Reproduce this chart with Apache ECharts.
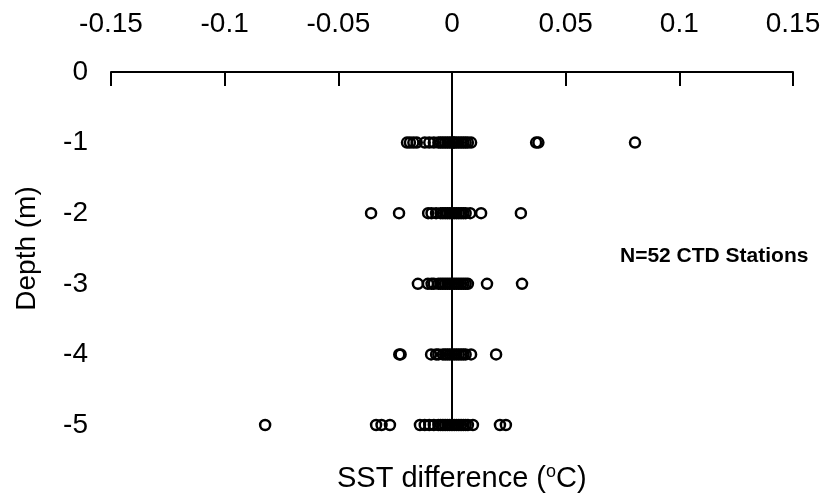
<!DOCTYPE html>
<html>
<head>
<meta charset="utf-8">
<script src="https://cdn.jsdelivr.net/npm/echarts@6/dist/echarts.min.js"></script>
<style>html,body{margin:0;padding:0;background:#fff;}#c{width:829px;height:498px;}</style>
</head>
<body>
<div id="c"></div>
<script>
// Depth levels (m)
var depths = [-1, -2, -3, -4, -5];
// SST differences (°C) at each depth
var sstDepth1 = [-0.0198, -0.0185, -0.017, -0.0155, -0.012, -0.010, -0.008, -0.006, -0.005, -0.004, -0.003, -0.002, -0.001, 0, 0.0005, 0.001, 0.002, 0.003, 0.004, 0.005, 0.006, 0.007, 0.0084, 0.037, 0.038, 0.0805];
var sstDepth2 = [-0.0356, -0.0233, -0.0105, -0.009, -0.007, -0.005, -0.004, -0.003, -0.002, -0.001, 0, 0.001, 0.002, 0.003, 0.004, 0.005, 0.006, 0.008, 0.0128, 0.0303];
var sstDepth3 = [-0.015, -0.0106, -0.009, -0.008, -0.006, -0.005, -0.004, -0.003, -0.002, -0.001, 0, 0.001, 0.002, 0.003, 0.004, 0.005, 0.006, 0.007, 0.0154, 0.0308];
var sstDepth4 = [-0.0232, -0.0226, -0.0092, -0.007, -0.006, -0.004, -0.003, -0.002, -0.001, 0, 0.001, 0.002, 0.003, 0.004, 0.005, 0.006, 0.0084, 0.0194];
var sstDepth5 = [-0.0822, -0.0334, -0.031, -0.0273, -0.0141, -0.012, -0.010, -0.008, -0.006, -0.005, -0.004, -0.003, -0.002, -0.001, 0, 0.001, 0.002, 0.003, 0.004, 0.005, 0.006, 0.007, 0.0092, 0.0211, 0.0237];
var xTickLabels = ['-0.15', '-0.1', '-0.05', '0', '0.05', '0.1', '0.15'];
var annotation = 'N=52 CTD Stations';

var groups = [sstDepth1, sstDepth2, sstDepth3, sstDepth4, sstDepth5];
var points = [];
groups.forEach(function (g, i) {
  g.forEach(function (v) { points.push([v, depths[i]]); });
});

var font = 'Arial, "Liberation Sans", sans-serif';
var chart = echarts.init(document.getElementById('c'));
chart.setOption({
  backgroundColor: '#fff',
  animation: false,
  grid: { left: 111, right: 36, top: 72, bottom: 73 },
  xAxis: {
    type: 'value', position: 'top', min: -0.15, max: 0.15, interval: 0.05,
    axisLine: { onZero: false, lineStyle: { color: '#000', width: 2 } },
    axisTick: { inside: true, length: 14, lineStyle: { color: '#000', width: 2 } },
    axisLabel: {
      margin: 34, color: '#000', fontSize: 28, fontFamily: font,
      formatter: function (v) { return xTickLabels[Math.round((v + 0.15) / 0.05)]; }
    },
    splitLine: { show: false }
  },
  yAxis: {
    type: 'value', min: -5, max: 0, interval: 1,
    axisLine: { show: false, onZero: false },
    axisTick: { show: false },
    axisLabel: { margin: 23, color: '#000', fontSize: 28, fontFamily: font },
    splitLine: { show: false },
    name: 'Depth (m)', nameLocation: 'middle', nameGap: 70,
    nameTextStyle: { color: '#000', fontSize: 28, fontFamily: font }
  },
  series: [{
    type: 'scatter', data: points, symbol: 'circle', symbolSize: 10,
    itemStyle: { color: 'rgba(255,255,255,0)', borderColor: '#000', borderWidth: 2.5, opacity: 1 },
    markLine: {
      silent: true, symbol: 'none', label: { show: false },
      lineStyle: { color: '#000', width: 2, type: 'solid' },
      data: [{ xAxis: 0 }]
    }
  }],
  graphic: [
    { type: 'text', left: 620, top: 246, style: { text: annotation, font: 'bold 21px ' + font, fill: '#000' } },
    { type: 'text', left: 337, top: 463, style: {
        text: '{a|SST difference (}{s|o}{a|C)}',
        rich: { a: { fontSize: 29, fontFamily: font, color: '#000' },
                s: { fontSize: 18, fontFamily: font, color: '#000', padding: [0, 0, 13, 0] } }
      } }
  ]
});
</script>
</body>
</html>
